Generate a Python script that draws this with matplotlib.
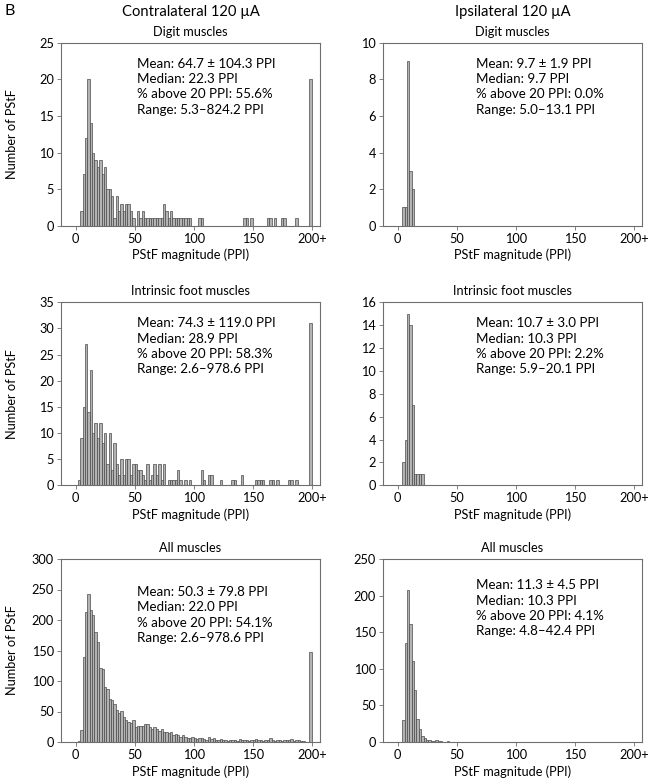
import numpy as np
import matplotlib
matplotlib.use("Agg")
import matplotlib.pyplot as plt

plt.rcParams['font.family'] = ['Lato', 'DejaVu Sans']

# ---------------- data (2-PPI bins starting at 0; overflow = "200+") ----------------
bin_width = 2
bin_starts = list(range(0, 198, 2))          # 0..196 regular bins
overflow_pos = 198                           # "200+" bar drawn in last slot

# Contralateral, digit muscles
contra_digit_counts = [0, 0, 2, 7, 12, 20, 14, 10, 9, 8,
                       9, 7, 8, 5, 5, 4, 1, 4, 2, 3,
                       2, 3, 3, 2, 1, 0, 2, 1, 2, 1,
                       1, 1, 1, 1, 1, 1, 1, 3, 2, 1,
                       2, 1, 1, 1, 1, 1, 1, 1, 1]
contra_digit_tail_bins = [104, 106, 142, 144, 148, 162, 164, 168, 174, 176, 186]
contra_digit_tail_counts = [1, 1, 1, 1, 1, 1, 1, 1, 1, 1, 1]
contra_digit_over = 20

# Ipsilateral, digit muscles
ipsi_digit_counts = [0, 0, 1, 1, 9, 3, 2]
ipsi_digit_over = 0

# Contralateral, intrinsic foot muscles
contra_foot_counts = [0, 1, 9, 15, 27, 14, 22, 10, 12, 9,
                      12, 8, 10, 4, 10, 3, 8, 4, 2, 5,
                      2, 5, 5, 2, 4, 4, 3, 3, 2, 1,
                      4, 1, 2, 4, 2, 4, 1, 4, 0, 1,
                      1, 1, 1, 3, 1, 0, 1, 0, 1]
contra_foot_tail_bins = [106, 108, 112, 114, 122, 132, 134, 140, 152, 154, 156, 158,
                         164, 166, 170, 180, 182, 186]
contra_foot_tail_counts = [3, 1, 2, 2, 1, 1, 1, 2, 1, 1, 1, 1,
                           1, 1, 1, 1, 1, 1]
contra_foot_over = 31

# Ipsilateral, intrinsic foot muscles
ipsi_foot_counts = [0, 0, 2, 4, 15, 14, 7, 1, 1, 1, 1]
ipsi_foot_over = 0

# Contralateral, all muscles
contra_all_counts = [0, 2, 20, 140, 213, 242, 217, 208, 180, 164,
                     121, 120, 90, 87, 70, 69, 63, 52, 48, 51,
                     41, 36, 33, 31, 36, 25, 27, 26, 27, 29,
                     30, 25, 22, 25, 21, 18, 21, 16, 17, 14,
                     16, 11, 13, 11, 9, 12, 9, 7, 6, 8,
                     7, 5, 6, 7, 5, 4, 9, 5, 6, 4,
                     3, 5, 3, 4, 2, 3, 4, 3, 2, 5,
                     3, 4, 3, 2, 4, 3, 5, 3, 4, 2,
                     3, 4, 6, 3, 2, 4, 3, 2, 3, 4,
                     3, 5, 2, 3, 3, 2, 1, 0, 0]
contra_all_over = 148

# Ipsilateral, all muscles
ipsi_all_counts = [0, 0, 30, 135, 207, 161, 110, 71, 32, 18,
                   8, 5, 3, 3, 2, 2, 3, 2, 1, 0, 0, 1]
ipsi_all_over = 0

x_ticks = [0, 50, 100, 150, 200]
x_tick_labels = ['0', '50', '100', '150', '200+']

col_titles = ['Contralateral 120 µA', 'Ipsilateral 120 µA']
row_titles = ['Digit muscles', 'Intrinsic foot muscles', 'All muscles']

stats = {
    (0, 0): ['Mean: 64.7 ± 104.3 PPI', 'Median: 22.3 PPI', '% above 20 PPI: 55.6%', 'Range: 5.3–824.2 PPI'],
    (0, 1): ['Mean: 9.7 ± 1.9 PPI', 'Median: 9.7 PPI', '% above 20 PPI: 0.0%', 'Range: 5.0–13.1 PPI'],
    (1, 0): ['Mean: 74.3 ± 119.0 PPI', 'Median: 28.9 PPI', '% above 20 PPI: 58.3%', 'Range: 2.6–978.6 PPI'],
    (1, 1): ['Mean: 10.7 ± 3.0 PPI', 'Median: 10.3 PPI', '% above 20 PPI: 2.2%', 'Range: 5.9–20.1 PPI'],
    (2, 0): ['Mean: 50.3 ± 79.8 PPI', 'Median: 22.0 PPI', '% above 20 PPI: 54.1%', 'Range: 2.6–978.6 PPI'],
    (2, 1): ['Mean: 11.3 ± 4.5 PPI', 'Median: 10.3 PPI', '% above 20 PPI: 4.1%', 'Range: 4.8–42.4 PPI'],
}

y_ticks = {
    (0, 0): np.arange(0, 26, 5), (0, 1): np.arange(0, 11, 2),
    (1, 0): np.arange(0, 36, 5), (1, 1): np.arange(0, 17, 2),
    (2, 0): np.arange(0, 301, 50), (2, 1): np.arange(0, 251, 50),
}


def full_counts(dense, tail_bins=(), tail_counts=()):
    arr = np.zeros(len(bin_starts))
    arr[:len(dense)] = dense
    for b, c in zip(tail_bins, tail_counts):
        arr[b // bin_width] = c
    return arr


panels = {
    (0, 0): (full_counts(contra_digit_counts, contra_digit_tail_bins, contra_digit_tail_counts), contra_digit_over),
    (0, 1): (full_counts(ipsi_digit_counts), ipsi_digit_over),
    (1, 0): (full_counts(contra_foot_counts, contra_foot_tail_bins, contra_foot_tail_counts), contra_foot_over),
    (1, 1): (full_counts(ipsi_foot_counts), ipsi_foot_over),
    (2, 0): (full_counts(contra_all_counts), contra_all_over),
    (2, 1): (full_counts(ipsi_all_counts), ipsi_all_over),
}

# ---------------- figure ----------------
W, H = 651, 781
fig = plt.figure(figsize=(W / 100, H / 100), dpi=100)

ax_left_px = [61, 383]
ax_w_px = 259
ax_top_px = [42.7, 302.3, 559.0]
ax_h_px = 183.0

FS_TICK = 9.2
FS_STAT = 9.6
FS_LAB = 9.2
FS_COL = 10.6
face = '#b3b3b3'
edge = '#4a4a4a'
spine_c = '#6e6e6e'

text_top = {(0, 0): 0.918, (0, 1): 0.918, (1, 0): 0.917, (1, 1): 0.917, (2, 0): 0.853, (2, 1): 0.888}
text_left = [0.293, 0.359]

for r in range(3):
    for c in range(2):
        l = ax_left_px[c] / W
        b = 1 - (ax_top_px[r] + ax_h_px) / H
        ax = fig.add_axes([l, b, ax_w_px / W, ax_h_px / H])
        counts, over = panels[(r, c)]
        ax.bar(bin_starts, counts, width=bin_width, align='edge',
               color=face, edgecolor=edge, linewidth=0.5)
        if over > 0:
            ax.bar([overflow_pos], [over], width=bin_width, align='edge',
                   color=face, edgecolor=edge, linewidth=0.5)
        yt = y_ticks[(r, c)]
        ax.set_ylim(0, yt[-1])
        ax.set_yticks(yt)
        ax.set_xlim(-12.3, 207)
        ax.set_xticks(x_ticks)
        ax.set_xticklabels(x_tick_labels)
        for s in ax.spines.values():
            s.set_color(spine_c)
            s.set_linewidth(0.8)
        ax.tick_params(direction='out', length=3, width=0.6, color=spine_c,
                       labelsize=FS_TICK, pad=2)
        ax.set_xlabel('PStF magnitude (PPI)', fontsize=FS_LAB, labelpad=3)
        ax.set_title(row_titles[r], fontsize=FS_LAB, pad=5)
        ax.text(text_left[c], text_top[(r, c)], '\n'.join(stats[(r, c)]),
                transform=ax.transAxes, ha='left', va='top', fontsize=FS_STAT,
                linespacing=1.33)
        if c == 0:
            yc = 1 - (ax_top_px[r] + ax_h_px / 2) / H
            fig.text(12 / W, yc, 'Number of PStF', rotation=90, ha='center',
                     va='center', fontsize=FS_LAB)

for c in range(2):
    xc = (ax_left_px[c] + ax_w_px / 2) / W
    fig.text(xc, 1 - 12 / H, col_titles[c], ha='center', va='center', fontsize=FS_COL)

fig.text(5 / W, 1 - 11 / H, 'B', ha='left', va='center', fontsize=FS_COL + 1)

fig.savefig('out.png', dpi=100)
